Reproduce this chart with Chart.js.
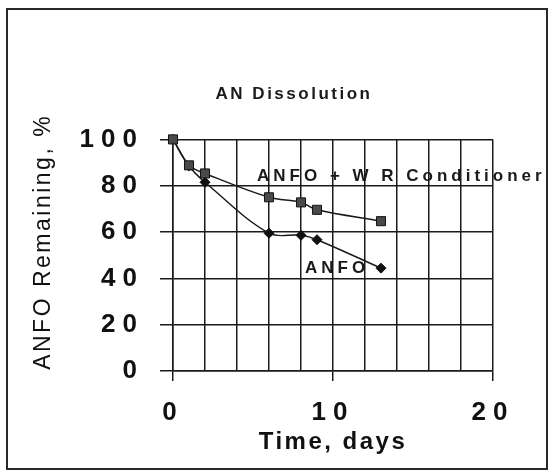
<!DOCTYPE html>
<html>
<head>
<meta charset="utf-8">
<script src="https://cdn.jsdelivr.net/npm/chart.js@4"></script>
<style>
  html, body { margin: 0; padding: 0; background: #fff; }
  #wrap { position: relative; width: 553px; height: 474px; }
  #myChart { display: block; }
  #frame { position: absolute; left: 6px; top: 8px; width: 542px; height: 462px; box-sizing: border-box; border: 2px solid #2a2a2a; pointer-events: none; }
</style>
</head>
<body>
<div id="wrap">
  <canvas id="myChart" width="553" height="474"></canvas>
  <div id="frame"></div>
</div>
<script>
const days = [0, 1, 2, 6, 8, 9, 13];
const anfoWR = [100, 88.8, 85.3, 75, 72.8, 69.6, 64.7];
const anfo = [100, 88.5, 81.5, 59.5, 58.6, 56.7, 44.4];
const seriesNames = ['ANFO + W R Conditioner', 'ANFO'];
const xTickValues = [0, 10, 20];
const xTickLabels = ['0', '10', '20'];
const yTickValues = [0, 20, 40, 60, 80, 100];
const yTickLabels = ['0', '20', '40', '60', '80', '100'];

const FONT = "'Liberation Sans', Arial, sans-serif";
const INK = '#1a1a1a';

// the scan has wide letter spacing everywhere, wider still on the numbers
const spacing = {
  id: 'spacing',
  beforeDraw(chart) {
    chart.ctx.letterSpacing = '2.5px';
    ['x', 'y'].forEach(id => {
      const s = chart.scales[id];
      if (s._spaced) return;
      const orig = s.drawLabels;
      s.drawLabels = function (area) {
        const c = this.ctx;
        const old = c.letterSpacing;
        c.letterSpacing = '7px';
        orig.call(this, area);
        c.letterSpacing = old;
      };
      s._spaced = true;
    });
  }
};

// series names written next to the curves (anchors in days / %)
const seriesNamesPlugin = {
  id: 'seriesNames',
  afterDatasetsDraw(chart) {
    const { ctx, scales: { x, y } } = chart;
    const spots = [[5.25, 84], [8.25, 44.4]];
    ctx.save();
    ctx.font = 'bold 17px ' + FONT;
    ctx.letterSpacing = '4px';
    ctx.fillStyle = INK;
    ctx.textAlign = 'left';
    ctx.textBaseline = 'middle';
    seriesNames.forEach((name, i) => {
      ctx.fillText(name, x.getPixelForValue(spots[i][0]), y.getPixelForValue(spots[i][1]));
    });
    ctx.restore();
  }
};

const ctx = document.getElementById('myChart');

new Chart(ctx, {
  type: 'line',
  data: {
    datasets: [
      {
        label: seriesNames[0],
        data: days.map((d, i) => ({ x: d, y: anfoWR[i] })),
        clip: false,
        borderColor: INK,
        borderWidth: 1.5,
        tension: 0.35,
        pointStyle: 'rect',
        pointRadius: 6.4,
        pointBackgroundColor: '#4a4a4a',
        pointBorderColor: '#111',
        pointBorderWidth: 1
      },
      {
        label: seriesNames[1],
        data: days.map((d, i) => ({ x: d, y: anfo[i] })),
        clip: false,
        borderColor: INK,
        borderWidth: 1.5,
        tension: 0.35,
        pointStyle: 'rectRot',
        pointRadius: 5,
        pointBackgroundColor: '#111',
        pointBorderColor: '#111',
        pointBorderWidth: 1
      }
    ]
  },
  options: {
    responsive: false,
    animation: false,
    events: [],
    layout: { padding: { left: 35, right: 0, top: 0, bottom: 12 } },
    plugins: {
      legend: { display: false },
      tooltip: { enabled: false },
      title: {
        display: true,
        text: 'AN Dissolution',
        color: INK,
        font: { family: FONT, size: 17, weight: 'bold' },
        padding: { top: 84, bottom: 35 }
      }
    },
    scales: {
      x: {
        type: 'linear',
        min: 0,
        max: 20,
        border: { color: INK, width: 1.5 },
        grid: {
          color: INK,
          lineWidth: 1.5,
          tickLength: 10,
          tickColor: c => xTickValues.includes(c.tick.value) ? INK : 'rgba(0,0,0,0)'
        },
        ticks: {
          stepSize: 2,
          autoSkip: false,
          maxRotation: 0,
          padding: 16,
          color: '#111',
          font: { family: FONT, size: 26, weight: 'bold' },
          callback: v => {
            const i = xTickValues.indexOf(v);
            return i < 0 ? '' : xTickLabels[i];
          }
        },
        title: {
          display: true,
          text: 'Time, days',
          color: '#111',
          font: { family: FONT, size: 24, weight: 'bold' },
          padding: { top: 0, bottom: 5 }
        },
        afterFit: s => { s.height = 91; }
      },
      y: {
        min: 0,
        max: 100,
        border: { color: INK, width: 1.5 },
        grid: { color: INK, lineWidth: 1.5, tickLength: 13 },
        ticks: {
          stepSize: 20,
          padding: 16,
          color: '#111',
          font: { family: FONT, size: 26, weight: 'bold' },
          callback: v => {
            const i = yTickValues.indexOf(v);
            return i < 0 ? '' : yTickLabels[i];
          }
        },
        title: {
          display: true,
          text: '   ANFO Remaining, %',
          color: '#111',
          font: { family: FONT, size: 23 },
          padding: { top: -5, bottom: 0 }
        },
        afterFit: s => { s.width = 138; }
      },
      y2: {
        type: 'linear',
        position: 'right',
        grid: { display: false },
        border: { display: false },
        ticks: { display: false },
        afterFit: s => { s.width = 60; }
      }
    }
  },
  plugins: [spacing, seriesNamesPlugin]
});
</script>
</body>
</html>
